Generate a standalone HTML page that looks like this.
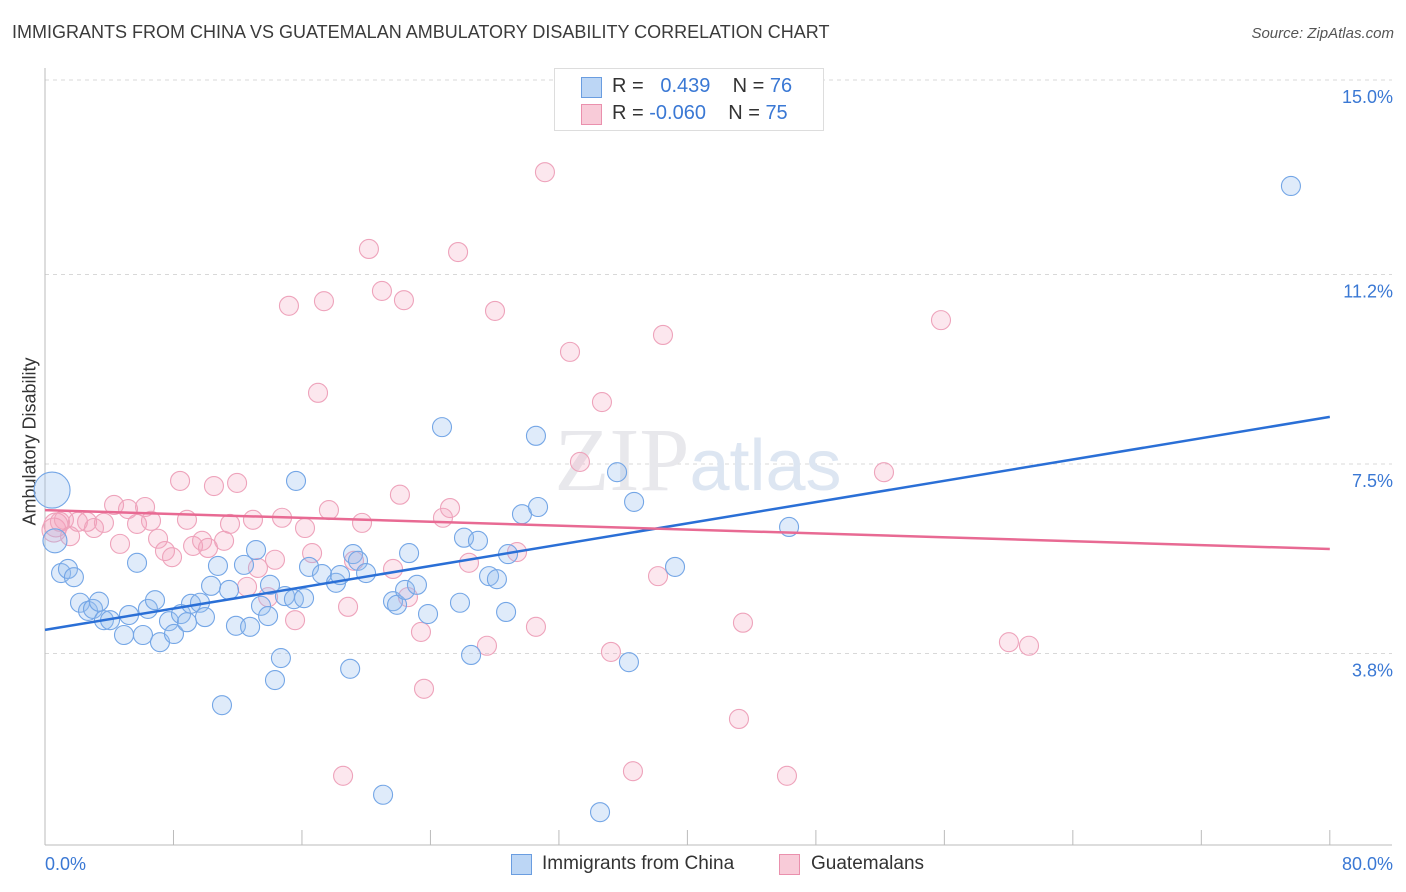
<!DOCTYPE html>
<html><head><meta charset="utf-8"><style>
body{margin:0;background:#fff;font-family:"Liberation Sans",sans-serif;}
#wrap{position:relative;width:1406px;height:892px;overflow:hidden;}
.t{position:absolute;white-space:nowrap;}
</style></head><body>
<div id="wrap">
<div class="t" style="left:12px;top:22px;font-size:18px;color:#3b3b3b;">IMMIGRANTS FROM CHINA VS GUATEMALAN AMBULATORY DISABILITY CORRELATION CHART</div>
<div class="t" style="right:12px;top:25px;font-size:15px;color:#555;font-style:italic;">Source: ZipAtlas.com</div>
<div class="t" style="left:-40px;top:445px;font-size:18px;color:#333;transform:rotate(-90deg);transform-origin:center;width:140px;text-align:center;">Ambulatory Disability</div>
<svg id="svg" width="1406" height="892" style="position:absolute;left:0;top:0"></svg>
<div style="position:absolute;left:554px;top:68px;width:268px;height:61px;border:1px solid #ddd;background:#fff;">
 <div style="position:absolute;left:26px;top:8px;width:19px;height:19px;background:#bcd6f5;border:1px solid #6a9de0;"></div>
 <div class="t" style="left:57px;top:6px;font-size:20px;color:#333;">R = &nbsp;&nbsp;<span style="color:#3a78d4">0.439</span>&nbsp;&nbsp;&nbsp; N = <span style="color:#3a78d4">76</span></div>
 <div style="position:absolute;left:26px;top:35px;width:19px;height:19px;background:#f8cbd8;border:1px solid #ea90ad;"></div>
 <div class="t" style="left:57px;top:33px;font-size:20px;color:#333;">R = <span style="color:#3a78d4">-0.060</span>&nbsp;&nbsp;&nbsp; N = <span style="color:#3a78d4">75</span></div>
</div>
<div>
 <div style="position:absolute;left:511px;top:854px;width:19px;height:19px;background:#bcd6f5;border:1px solid #6a9de0;"></div>
 <div class="t" style="left:542px;top:853px;font-size:19px;color:#333;">Immigrants from China</div>
 <div style="position:absolute;left:779px;top:854px;width:19px;height:19px;background:#f8cbd8;border:1px solid #ea90ad;"></div>
 <div class="t" style="left:811px;top:853px;font-size:19px;color:#333;">Guatemalans</div>
</div>
</div>
<script>
const yTicks=[15.0,11.2,7.5,3.8];
const yTickLabels=["15.0%","11.2%","7.5%","3.8%"];
const xTickLabels=["0.0%","80.0%"];
const chinaX=[0.44,0.62,1.0,1.43,1.8,2.18,2.68,2.99,3.36,3.67,4.05,4.92,5.23,5.73,6.10,6.41,6.85,7.16,7.72,8.03,8.47,8.84,9.09,9.65,9.96,10.34,10.77,11.02,11.46,11.89,12.39,12.77,13.14,13.45,13.89,14.01,14.69,14.32,14.94,15.5,15.63,16.13,16.44,17.25,18.12,18.37,19.0,19.18,19.49,19.99,21.05,21.67,21.92,22.42,22.67,23.16,23.85,24.72,25.84,26.09,26.53,26.96,27.65,28.14,28.71,28.83,29.7,30.57,30.7,34.56,35.62,36.36,36.68,39.23,46.33,77.58];
const chinaY=[6.99,6.00,5.37,5.45,5.29,4.79,4.63,4.67,4.81,4.45,4.45,4.16,4.55,5.57,4.16,4.67,4.84,4.02,4.43,4.18,4.57,4.41,4.77,4.79,4.51,5.12,5.51,2.79,5.04,4.34,5.53,4.32,5.82,4.73,4.53,5.14,3.71,3.28,4.92,4.86,7.17,4.88,5.49,5.35,5.18,5.33,3.50,5.74,5.61,5.37,1.04,4.82,4.75,5.04,5.76,5.14,4.57,8.22,4.79,6.06,3.77,6.00,5.31,5.25,4.61,5.74,6.52,8.05,6.66,0.70,7.34,3.63,6.76,5.49,6.27,12.93];
const guatX=[0.56,0.68,0.93,1.18,1.56,2.05,2.62,3.05,3.67,4.30,4.67,5.17,5.73,6.23,6.60,7.04,7.47,7.91,8.41,8.84,9.22,9.78,10.15,10.52,11.15,11.52,11.96,12.58,12.95,13.26,13.89,14.32,14.76,15.19,15.57,16.19,16.63,17.0,17.37,17.68,18.56,18.87,19.24,19.74,20.17,20.98,21.67,22.1,22.35,22.6,23.41,23.6,24.78,25.22,25.72,26.4,27.52,28.02,29.39,30.57,31.13,32.69,33.31,34.68,35.24,36.61,38.17,38.48,43.21,43.46,46.2,52.24,55.79,60.02,61.27];
const guatY=[6.21,6.31,6.37,6.41,6.09,6.37,6.37,6.25,6.35,6.70,5.94,6.62,6.33,6.66,6.39,6.04,5.80,5.68,7.17,6.41,5.90,6.00,5.86,7.07,6.00,6.33,7.13,5.10,6.41,5.47,4.90,5.63,6.45,10.59,4.45,6.25,5.76,8.89,10.68,6.60,1.41,4.71,5.61,6.35,11.70,10.88,5.45,6.90,10.70,4.90,4.22,3.11,6.45,6.64,11.64,5.57,3.95,10.49,5.78,4.32,13.20,9.69,7.54,8.71,3.83,1.50,5.31,10.02,2.52,4.40,1.41,7.34,10.31,4.02,3.95];
const chinaTrend=[4.26,8.42];
const guatTrend=[6.60,5.84];
const X=v=>45+v*16.06, Y=v=>80+(15-v)*51.2;
const svg=document.getElementById('svg'),NS='http://www.w3.org/2000/svg';
function mk(t,a){const e=document.createElementNS(NS,t);for(const k in a)e.setAttribute(k,a[k]);svg.appendChild(e);return e;}
yTicks.forEach((v,i)=>{
 const g=mk('line',{x1:45,x2:1392,y1:Y(v),y2:Y(v),stroke:'#d8d8d8','stroke-dasharray':'4,4'});
 
 
 const t=mk('text',{x:1393,y:Y(v)+23,'text-anchor':'end','font-size':18,fill:'#3a78d4','font-family':'Liberation Sans'});
 t.textContent=yTickLabels[i];
 
 
});
let ax=mk('line',{x1:45,x2:45,y1:68,y2:845,stroke:'#bbb'});


ax=mk('line',{x1:45,x2:1392,y1:845,y2:845,stroke:'#bbb'});


for(let v=8;v<=80;v+=8){const tk=mk('line',{x1:X(v),x2:X(v),y1:830,y2:845,stroke:'#bbb'});
 
 }
[[0,'start',45],[80,'end',1393]].forEach((a,i)=>{const t=mk('text',{x:a[2],y:870,'text-anchor':a[1],'font-size':18,fill:'#3a78d4','font-family':'Liberation Sans'});t.textContent=xTickLabels[i];
 
 });
const wm=mk('text',{x:698,y:490,'text-anchor':'middle','font-size':90,fill:'#e8e8ec','font-family':'Liberation Serif'});
wm.innerHTML='ZIP<tspan font-family="Liberation Sans" font-size="72" fill="#dde6f2">atlas</tspan>';


function pts(xs,ys,fill,stroke,name){xs.forEach((x,i)=>{let r=9.5;if(i===0&&name==='china-point')r=18;else if(i===1&&name==='china-point')r=12;else if(i<2&&name==='guatemalan-point')r=12;
 const c=mk('circle',{cx:X(x),cy:Y(ys[i]),r:r,fill:fill,stroke:stroke,'stroke-width':1.1});
 
 });}
pts(guatX,guatY,'rgba(244,160,186,0.25)','#eea3bb','guatemalan-point');
pts(chinaX,chinaY,'rgba(150,190,240,0.3)','#74a6e6','china-point');
let l=mk('line',{x1:X(0),y1:Y(chinaTrend[0]),x2:X(80),y2:Y(chinaTrend[1]),stroke:'#2a6fd6','stroke-width':2.5});


l=mk('line',{x1:X(0),y1:Y(guatTrend[0]),x2:X(80),y2:Y(guatTrend[1]),stroke:'#e86a93','stroke-width':2.5});


</script>
</body></html>
